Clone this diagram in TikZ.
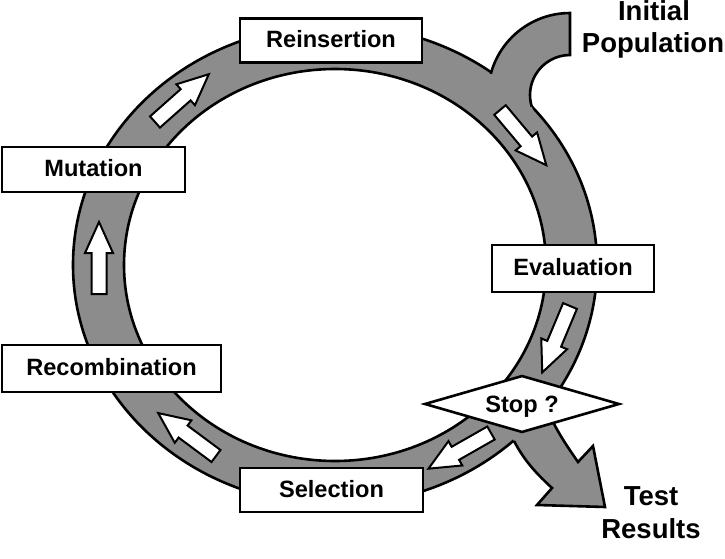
\documentclass[tikz,border=0pt]{standalone}
\usepackage{fontspec}
\setmainfont{Liberation Sans}
\usetikzlibrary{shapes.geometric}
\definecolor{ringgray}{RGB}{140,140,140}
\newcommand\boxfont{\fontsize{23.6}{28}\selectfont\bfseries}
\newcommand\bigfont{\fontsize{27.5}{33}\selectfont\bfseries}
\tikzset{
  ringline/.style={draw=black, line width=2.6pt},
  bandedge/.style={draw=black, line width=2.6pt, line join=miter},
  labelbox/.style={draw=black, fill=white, line width=2.6pt, rectangle,
    inner sep=0pt, font=\boxfont, text height=17pt, text depth=2.4pt},
  stopdiamond/.style={draw=black, fill=white, line width=2.6pt, diamond,
    inner sep=0pt, aspect=3.4, minimum width=195pt, minimum height=57pt,
    font=\boxfont, text height=17pt, text depth=0pt},
  biglabel/.style={font=\bigfont, inner sep=0pt, anchor=base},
  hollow/.style={draw=black, fill=white, line width=2pt, line join=miter},
  flowarrow/.pic={
    \draw[hollow] (0,-7.5) -- (41,-7.5) -- (41,-14) -- (72,0) -- (41,14)
      -- (41,7.5) -- (0,7.5) -- cycle;
  }
}
\begin{document}
\begin{tikzpicture}[x=1pt, y=-1pt]
\useasboundingbox (0,0) rectangle (725,559);

% ring
\path[fill=ringgray, ringline, even odd rule]
  (335,265) ellipse [x radius=262, y radius=240]
  (335,265) ellipse [x radius=211, y radius=196];

% initial population band
\fill[ringgray] (570,13) arc[start angle=-90, end angle=-172, radius=82]
  -- (537.2,117.9) arc[start angle=-215, end angle=-90, radius=40] -- cycle;
\draw[bandedge] (490.8,73.8) arc[start angle=-165, end angle=-90, radius=82]
  -- (570,55) arc[start angle=-90, end angle=-197, radius=40];

% output band to test results
\fill[ringgray] (514,441) .. controls (525,462) and (538,475) .. (552,488)
  -- (537,505) -- (605,507) -- (593,446) -- (578,462)
  .. controls (569,449) and (560,436) .. (552,420)
  -- (530,400) -- (505,425) -- cycle;
\draw[bandedge] (514,441) .. controls (525,462) and (538,475) .. (552,488)
  -- (537,505) -- (605,507) -- (593,446) -- (578,462)
  .. controls (569,449) and (560,436) .. (552,420);

% flow arrows inside the ring
\pic[rotate=-50] at (500,110) {flowarrow};
\pic[rotate=-112.7] at (570,306) {flowarrow};
\pic[rotate=-150.3] at (491,433) {flowarrow};
\pic[rotate=143.4] at (216,456) {flowarrow};
\pic[rotate=90] at (99,294) {flowarrow};
\pic[rotate=41.6] at (155,122) {flowarrow};

% boxes
\node[labelbox, minimum width=182pt, minimum height=44pt] (reins) at (331,40.5) {Reinsertion};
\node[labelbox, minimum width=183pt, minimum height=45pt] (mut) at (93.5,169.5) {Mutation};
\node[labelbox, minimum width=219pt, minimum height=47pt] (recomb) at (111.5,368.5) {Recombination};
\node[labelbox, minimum width=183pt, minimum height=44pt] (sel) at (331.5,490) {Selection};
\node[labelbox, minimum width=162pt, minimum height=47pt] (eval) at (573,268.5) {Evaluation};
\node[stopdiamond] (stop) at (522,404) {Stop ?};

% outside labels
\node[biglabel] (initA) at (654,21) {Initial};
\node[biglabel] (initB) at (653,53) {Population};
\node[biglabel] (testA) at (651,505) {Test};
\node[biglabel] (testB) at (651,538) {Results};
\end{tikzpicture}
\end{document}
